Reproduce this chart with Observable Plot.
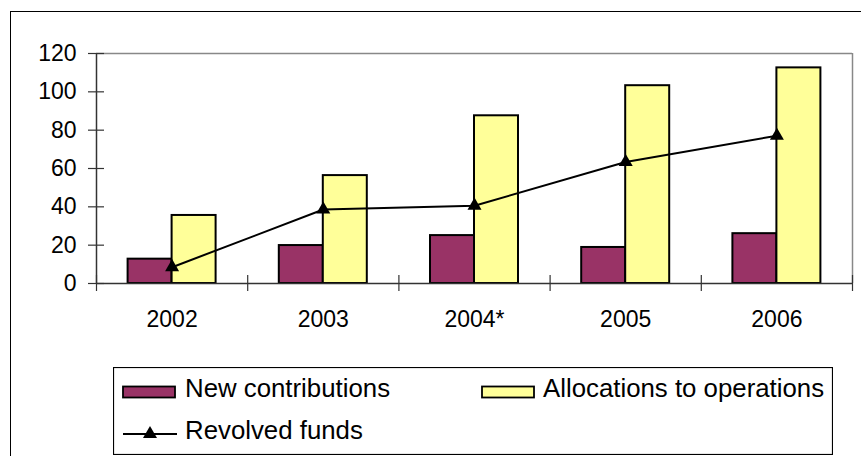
<!DOCTYPE html>
<html>
<head>
<meta charset="utf-8">
<script src="https://cdn.jsdelivr.net/npm/d3@7"></script>
<script src="https://cdn.jsdelivr.net/npm/@observablehq/plot@0.6"></script>
<style>
  html, body { margin: 0; padding: 0; background: #fff; overflow: hidden; width: 861px; height: 456px; }
  #wrap { position: relative; width: 861px; height: 456px; font-family: "Liberation Sans", Arial, sans-serif; }
  #outer { position: absolute; left: 10px; top: 11px; width: 900px; height: 500px; border: 1.5px solid #000; box-sizing: border-box; }
  #chart { position: absolute; left: 0; top: 0; }
  #legend { position: absolute; left: 113px; top: 367px; }
</style>
</head>
<body>
<div id="wrap">
  <div id="outer"></div>
  <div id="chart"></div>
  <div id="legend"></div>
</div>
<script>
// ---- data ----
const years = ["2002", "2003", "2004*", "2005", "2006"];
const newContributions = [12.7, 19.8, 25.0, 18.8, 26.0];
const allocations = [35.5, 56.3, 87.5, 103.2, 112.5];
const revolved = [8.5, 38.6, 40.6, 63.4, 77.1];
const yTicks = [0, 20, 40, 60, 80, 100, 120];
const seriesNames = ["New contributions", "Allocations to operations", "Revolved funds"];
const seriesColors = ["#993366", "#FFFF99", "#000000"];

// ---- tables ----
const idx = years.map((_, i) => i);
const barHalf = 0.291; // fraction of a category occupied by one bar
const rowsNew = idx.map(i => ({i, v: newContributions[i]}));
const rowsAlloc = idx.map(i => ({i, v: allocations[i]}));
const rowsRev = idx.map(i => ({i, v: revolved[i]}));
const boundaries = d3.range(years.length + 1);
const centers = idx.map(i => i + 0.5);

const axisColor = "#333";
const chart = Plot.plot({
  width: 861,
  height: 360,
  marginLeft: 96,
  marginRight: 9,
  marginTop: 53,
  marginBottom: 77,
  style: {fontFamily: "'Liberation Sans', Arial, sans-serif", background: "transparent", color: "#000"},
  x: {type: "linear", domain: [0, years.length], axis: null},
  y: {domain: [0, 120], axis: null},
  marks: [
    // frame: top & right gray
    Plot.ruleY([120], {stroke: "#888", strokeWidth: 1.5}),
    Plot.ruleX([years.length], {stroke: "#888", strokeWidth: 1.5}),
    // bars
    Plot.rectY(rowsNew, {x1: d => d.i + 0.5 - barHalf, x2: d => d.i + 0.5, y: "v", fill: seriesColors[0], stroke: "#000", strokeWidth: 2}),
    Plot.rectY(rowsAlloc, {x1: d => d.i + 0.5, x2: d => d.i + 0.5 + barHalf, y: "v", fill: seriesColors[1], stroke: "#000", strokeWidth: 2}),
    // axes lines
    Plot.ruleX([0], {stroke: axisColor, strokeWidth: 1.5}),
    Plot.ruleY([0], {stroke: axisColor, strokeWidth: 1.5}),
    Plot.axisY(yTicks, {anchor: "left", label: null, tickSize: 16, dx: 8, tickPadding: 12, fontSize: 23, stroke: axisColor, strokeWidth: 1.2}),
    Plot.axisX(boundaries, {anchor: "bottom", label: null, tickSize: 16, dy: -8, tickFormat: () => "", stroke: axisColor, strokeWidth: 1.2}),
    Plot.axisX(centers, {anchor: "bottom", label: null, tickSize: 0, tickPadding: 27, fontSize: 23, tickFormat: v => years[Math.floor(v)]}),
    // line
    Plot.line(rowsRev, {x: d => d.i + 0.5, y: "v", stroke: seriesColors[2], strokeWidth: 2}),
    Plot.dot(rowsRev, {x: d => d.i + 0.5, y: "v", symbol: "triangle", r: 5.2, fill: seriesColors[2], stroke: "none"})
  ]
});
document.getElementById("chart").appendChild(chart);

// ---- legend (below the chart) ----
const lw = 720, lh = 88;
const lg = d3.select("#legend").append("svg")
  .attr("width", lw).attr("height", lh)
  .style("font-family", "'Liberation Sans', Arial, sans-serif");
lg.append("rect").attr("x", 0.5).attr("y", 0.5).attr("width", lw - 1).attr("height", lh - 1)
  .attr("fill", "#fff").attr("stroke", "#000").attr("stroke-width", 1.2);
const items = [
  {kind: "rect", x: 10, y: 25, tx: 72},
  {kind: "rect", x: 369, y: 25, tx: 430},
  {kind: "line", x: 10, y: 67, tx: 72}
];
items.forEach((it, k) => {
  if (it.kind === "rect") {
    lg.append("rect").attr("x", it.x).attr("y", it.y - 5.5).attr("width", 52).attr("height", 11)
      .attr("fill", seriesColors[k]).attr("stroke", "#000").attr("stroke-width", 1.8);
  } else {
    lg.append("line").attr("x1", it.x).attr("x2", it.x + 54).attr("y1", it.y).attr("y2", it.y)
      .attr("stroke", seriesColors[k]).attr("stroke-width", 2);
    lg.append("path").attr("transform", `translate(${it.x + 27},${it.y})`)
      .attr("d", d3.symbol(d3.symbolTriangle, Math.PI * 5.2 * 5.2)()).attr("fill", seriesColors[k]);
  }
  lg.append("text").attr("x", it.tx).attr("y", it.y + 5).attr("font-size", 25.8).attr("fill", "#000")
    .text(seriesNames[k]);
});
</script>
</body>
</html>
